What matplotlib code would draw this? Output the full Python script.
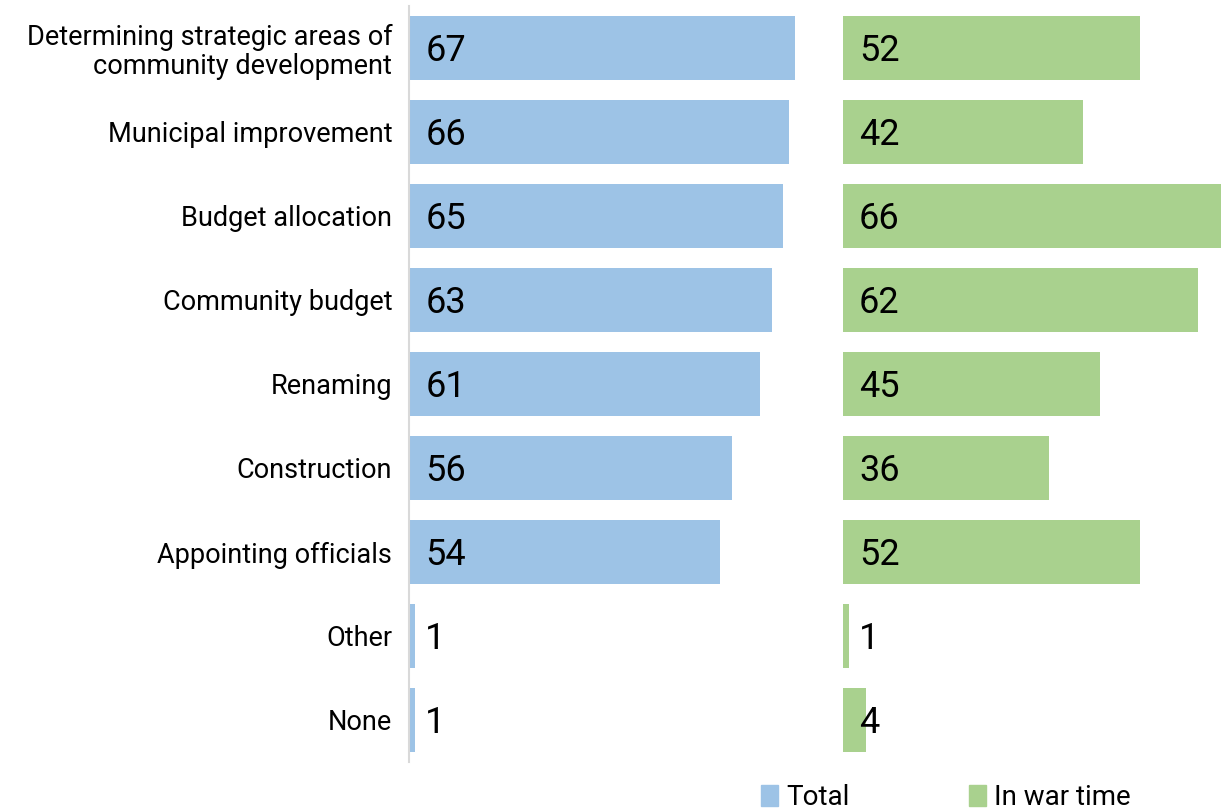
import matplotlib
matplotlib.use("Agg")
import matplotlib.pyplot as plt
from matplotlib.patches import Patch

categories = [
    "Determining strategic areas of\ncommunity development",
    "Municipal improvement",
    "Budget allocation",
    "Community budget",
    "Renaming",
    "Construction",
    "Appointing officials",
    "Other",
    "None",
]
total = [67, 66, 65, 63, 61, 56, 54, 1, 1]
war_time = [52, 42, 66, 62, 45, 36, 52, 1, 4]
series_names = ["Total", "In war time"]

BLUE = "#9DC3E6"
GREEN = "#A9D18E"

plt.rcParams["font.family"] = ["Roboto", "DejaVu Sans"]

W, H = 1231, 811
fig = plt.figure(figsize=(W / 100, H / 100), dpi=100)

px_per_unit = 5.76
xmax = 70
y_top, y_bot = 6, 762
ax_h = (y_bot - y_top) / H
ax_b = 1 - y_bot / H

ax1 = fig.add_axes([409 / W, ax_b, xmax * px_per_unit / W, ax_h])
ax2 = fig.add_axes([843 / W, ax_b, (W - 843) / W, ax_h])
xmax2 = (W - 843) / 5.72

ypos = list(range(len(categories)))
for ax, vals, color, xm in ((ax1, total, BLUE, xmax), (ax2, war_time, GREEN, xmax2)):
    ax.barh(ypos, vals, height=0.76, color=color)
    ax.set_xlim(0, xm)
    ax.set_ylim(len(categories) - 0.5, -0.5)
    ax.set_xticks([])
    for s in ax.spines.values():
        s.set_visible(False)
    for y, v in zip(ypos, vals):
        ax.text(2.8, y + 0.04, str(v), ha="left", va="center", fontsize=26, color="black")

ax1.spines["left"].set_visible(True)
ax1.spines["left"].set_color("#D9D9D9")
ax1.spines["left"].set_linewidth(1.5)
ax1.set_yticks(ypos)
ax1.set_yticklabels(categories, fontsize=19.5, linespacing=1.1)
ax1.tick_params(axis="y", length=0, pad=12)
ax2.set_yticks([])

handles = [Patch(color=BLUE, label=series_names[0]), Patch(color=GREEN, label=series_names[1])]
fig.legend(handles=handles, loc="lower left", bbox_to_anchor=(750 / W, -0.014), ncol=2,
           frameon=False, fontsize=20, handlelength=0.6, handleheight=0.75,
           handletextpad=0.3, columnspacing=4.3, borderaxespad=0)

fig.savefig("out.png", dpi=100)
